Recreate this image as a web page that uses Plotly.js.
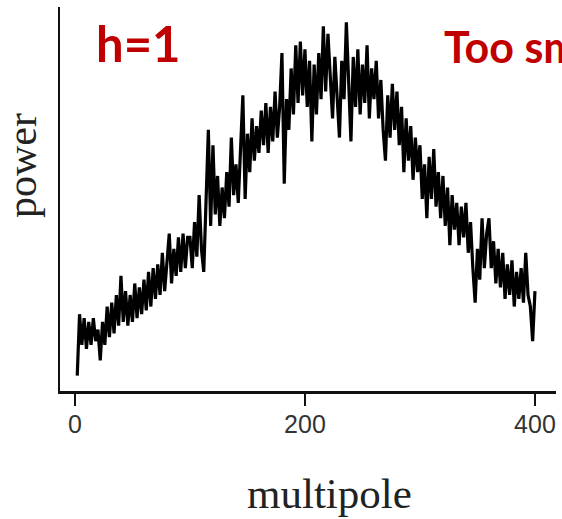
<!DOCTYPE html>
<html>
<head>
<meta charset="utf-8">
<script src="https://cdn.plot.ly/plotly-3.0.1.min.js"></script>
<style>html,body{margin:0;padding:0;background:#fff;overflow:hidden}</style>
</head>
<body>
<div id="chart" style="width:562px;height:519px"></div>
<script>
const multipole = [2,4,6,8,10,12,14,16,18,20,22,24,26,28,30,32,34,36,38,40,
42,44,46,48,50,52,54,56,58,60,62,64,66,68,70,72,74,76,78,80,
82,84,86,88,90,92,94,96,98,100,102,104,106,108,110,112,114,116,118,120,
122,124,126,128,130,132,134,136,138,140,142,144,146,148,150,152,154,156,158,160,
162,164,166,168,170,172,174,176,178,180,182,184,186,188,190,192,194,196,198,200,
202,204,206,208,210,212,214,216,218,220,222,224,226,228,230,232,234,236,238,240,
242,244,246,248,250,252,254,256,258,260,262,264,266,268,270,272,274,276,278,280,
282,284,286,288,290,292,294,296,298,300,302,304,306,308,310,312,314,316,318,320,
322,324,326,328,330,332,334,336,338,340,342,344,346,348,350,352,354,356,358,360,
362,364,366,368,370,372,374,376,378,380,382,384,386,388,390,392,394,396,398,400];

const power = [4,20,12,19,11,18,12,19,13,16,8,18,12,22,14,23,15,25,17,30,
18,26,17,25,18,28,19,27,20,29,21,31,22,32,24,33,25,36,26,35,
41,28,37,30,40,31,41,32,40,40,32,44,35,51,37,31,47,68,43,64,
46,56,43,53,45,57,48,66,51,59,49,65,77,50,67,57,71,60,69,62,
73,64,75,62,74,65,78,66,74,88,54,76,68,84,72,90,75,91,77,89,
74,86,65,85,72,88,76,95,78,93,82,71,87,77,66,86,76,96,78,65,
87,74,89,72,85,75,90,71,84,76,86,71,81,68,60,77,66,80,68,78,
64,74,57,71,60,69,55,66,57,64,50,59,45,61,50,63,48,57,45,56,
43,53,38,51,42,49,38,48,40,49,36,44,32,23,37,29,45,32,41,45,
32,39,28,37,27,36,24,33,25,34,22,31,24,32,23,36,25,22,13,26];

const xTickVals = [0, 200, 400];
const xTickText = ["0", "200", "400"];
const xTitle = "multipole";
const yTitle = "power";
const label1 = "h=1";
const label2 = "Too small";

const trace = {
  x: multipole,
  y: power,
  type: "scatter",
  mode: "lines",
  line: {color: "#000", width: 3.2},
  hoverinfo: "skip"
};

const layout = {
  width: 562,
  height: 519,
  margin: {l: 60, r: 6, t: 7, b: 128},
  paper_bgcolor: "#fff",
  plot_bgcolor: "#fff",
  showlegend: false,
  xaxis: {
    range: [-13, 418.3],
    tickvals: xTickVals,
    ticktext: xTickText,
    ticks: "outside",
    ticklen: 12,
    tickwidth: 2.5,
    tickcolor: "#111",
    ticklabelstandoff: -3,
    showline: true,
    linecolor: "#111",
    linewidth: 2.5,
    showgrid: false,
    zeroline: false,
    tickfont: {family: "Liberation Sans, Arial, sans-serif", size: 25, color: "#333"},
    fixedrange: true
  },
  yaxis: {
    range: [0, 100],
    showticklabels: false,
    ticks: "",
    showline: true,
    linecolor: "#111",
    linewidth: 2,
    showgrid: false,
    zeroline: false,
    fixedrange: true
  },
  annotations: [
    {text: xTitle, xref: "paper", yref: "paper", x: 0.543, y: -0.268,
     xanchor: "center", yanchor: "middle", showarrow: false,
     font: {family: "Liberation Serif, Times New Roman, serif", size: 43, color: "#222"}},
    {text: yTitle, xref: "paper", yref: "paper", x: -0.0766, y: 0.586,
     xanchor: "center", yanchor: "middle", showarrow: false, textangle: -90,
     font: {family: "Liberation Serif, Times New Roman, serif", size: 42, color: "#222"}},
    {text: "<b>" + label1 + "</b>", xref: "paper", yref: "paper", x: 0.0686, y: 0.905,
     xanchor: "left", yanchor: "middle", showarrow: false,
     font: {family: "Lato, Liberation Sans, sans-serif", size: 49, color: "#C00000"}},
    {text: "<b>" + label2 + "</b>", xref: "paper", yref: "paper", x: 0.770, y: 0.897,
     xanchor: "left", yanchor: "middle", showarrow: false,
     font: {family: "Lato, Liberation Sans, sans-serif", size: 43, color: "#C00000"}}
  ]
};

Plotly.newPlot("chart", [trace], layout, {displayModeBar: false, staticPlot: true});
</script>
</body>
</html>
